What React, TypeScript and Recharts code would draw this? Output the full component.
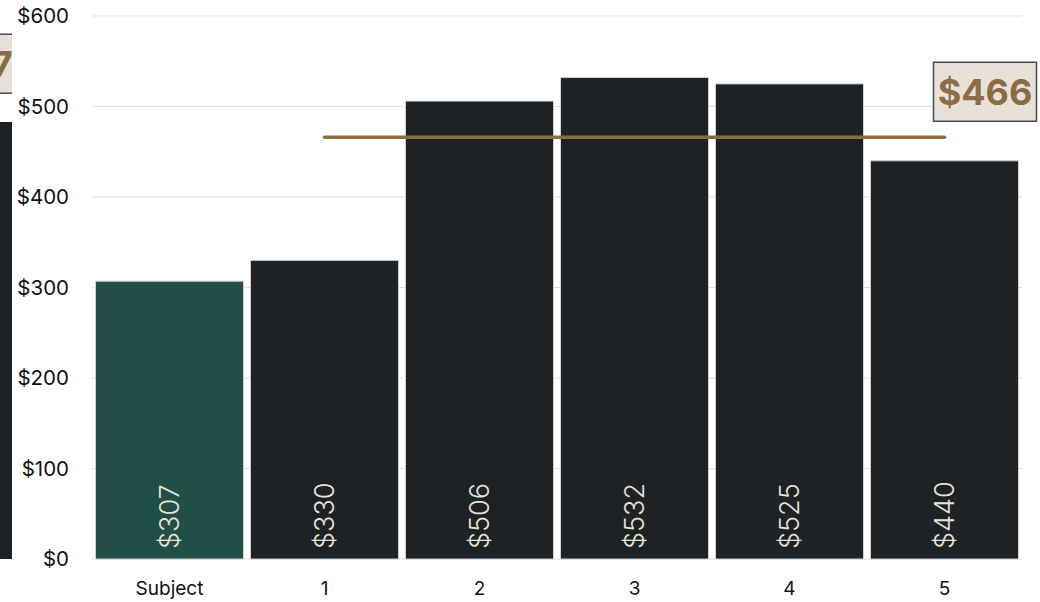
import { ComposedChart, Bar, Line, XAxis, YAxis, CartesianGrid, Cell, LabelList, ReferenceDot } from 'recharts'

const categories = ['Subject', '1', '2', '3', '4', '5']
const prices = [307, 330, 506, 532, 525, 440]
const averagePrice = 466
const yTicks = [0, 100, 200, 300, 400, 500, 600]

// right edge of the neighbouring chart, cut off in the screenshot
const edgePrices = [483]
const edgeAverage = 497

const FONT = 'Inter, "Open Sans", sans-serif'
const SUBJECT_COLOR = '#214f47'
const COMP_COLOR = '#1f2224'
const BROWN = '#8b6d45'
const BEIGE = '#e8e1d7'

const data = categories.map((name, i) => ({
  name,
  price: prices[i],
  avg: i === 0 ? null : averagePrice,
}))

const edgeData = edgePrices.map((v) => ({ name: 'edge', price: v }))

function BarValue(props: any) {
  const { x, y, width, height, value } = props
  const cx = x + width / 2
  const by = y + height - 10
  return (
    <text
      x={cx}
      y={by}
      transform={`rotate(-90, ${cx}, ${by})`}
      textAnchor="start"
      dominantBaseline="central"
      fill={BEIGE}
      fontSize={27}
      fontWeight={300}
      fontFamily={FONT}
    >
      ${value}
    </text>
  )
}

function AvgLabel(props: any) {
  const { x, y, index, value } = props
  if (index !== categories.length - 1) return null
  const left = x - 11
  const top = y - 75
  return (
    <g>
      <rect x={left} y={top} width={103} height={59} fill={BEIGE} stroke="#4a4a4a" strokeWidth={1.5} />
      <text
        x={left + 51.5}
        y={top + 30}
        textAnchor="middle"
        dominantBaseline="central"
        fill={BROWN}
        fontSize={36}
        fontWeight={700}
        fontFamily={FONT}
      >
        ${value}
      </text>
    </g>
  )
}

function EdgeBox(props: any) {
  const { cx, cy } = props
  const left = cx - 90
  const top = cy - 75
  return (
    <g>
      <rect x={left} y={top} width={102} height={59} fill={BEIGE} stroke="#4a4a4a" strokeWidth={1.5} />
      <text
        x={left + 51}
        y={top + 30}
        textAnchor="middle"
        dominantBaseline="central"
        fill={BROWN}
        fontSize={36}
        fontWeight={700}
        fontFamily={FONT}
      >
        ${edgeAverage}
      </text>
    </g>
  )
}

export default function App() {
  return (
    <div style={{ position: 'relative', width: 1040, height: 602, background: '#fff' }}>
      <style>{'body{margin:0}'}</style>
      <div style={{ position: 'absolute', left: 0, top: 0, width: 12, height: 602, overflow: 'hidden' }}>
        <ComposedChart width={12} height={602} data={edgeData} margin={{ top: 16, right: 0, bottom: 43, left: 0 }} barCategoryGap={0}>
          <YAxis hide domain={[0, 600]} ticks={yTicks} />
          <XAxis hide dataKey="name" />
          <Bar dataKey="price" fill={COMP_COLOR} isAnimationActive={false} />
          <ReferenceDot x="edge" y={edgeAverage} r={0} shape={EdgeBox} ifOverflow="visible" />
        </ComposedChart>
      </div>
      <div style={{ position: 'absolute', left: 0, top: 0 }}>
        <ComposedChart
          width={1040}
          height={602}
          data={data}
          margin={{ top: 16, right: 18, bottom: 0, left: 0 }}
          barCategoryGap={3.5}
          style={{ fontFamily: FONT }}
        >
          <CartesianGrid horizontal vertical={false} stroke="#dedede" />
          <XAxis
            dataKey="name"
            axisLine={false}
            tickLine={false}
            tickMargin={17}
            height={43}
            tick={{ fill: '#111', fontSize: 19, fontFamily: FONT }}
          />
          <YAxis
            domain={[0, 600]}
            ticks={yTicks}
            width={92}
            axisLine={false}
            tickLine={false}
            tickMargin={17}
            tickFormatter={(v: number) => `$${v}`}
            tick={{ fill: '#111', fontSize: 20.5, fontFamily: FONT }}
          />
          <Bar dataKey="price" stroke="#cfcfcf" strokeWidth={1} isAnimationActive={false}>
            {data.map((d, i) => (
              <Cell key={d.name} fill={i === 0 ? SUBJECT_COLOR : COMP_COLOR} />
            ))}
            <LabelList dataKey="price" content={BarValue} />
          </Bar>
          <Line
            dataKey="avg"
            stroke={BROWN}
            strokeWidth={3.5}
            strokeLinecap="round"
            dot={false}
            activeDot={false}
            connectNulls={false}
            isAnimationActive={false}
            label={AvgLabel}
          />
        </ComposedChart>
      </div>
    </div>
  )
}
